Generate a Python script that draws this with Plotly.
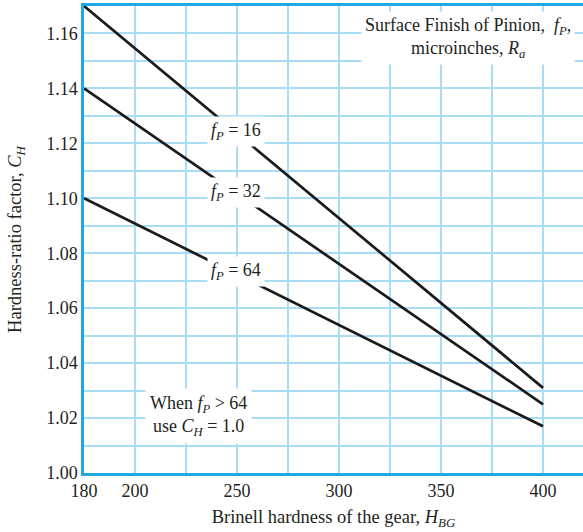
import plotly.graph_objects as go

# Brinell hardness of the gear and hardness-ratio factor
hardness = [180, 400]
ch_fp16 = [1.170, 1.031]
ch_fp32 = [1.140, 1.025]
ch_fp64 = [1.100, 1.017]

x_tick_values = [180, 200, 225, 250, 275, 300, 325, 350, 375, 400]
x_tick_labels = ["180", "200", "", "250", "", "300", "", "350", "", "400"]
y_ticks = [1.00, 1.01, 1.02, 1.03, 1.04, 1.05, 1.06, 1.07, 1.08, 1.09, 1.10,
           1.11, 1.12, 1.13, 1.14, 1.15, 1.16]
y_labels = ["1.00", "", "1.02", "", "1.04", "", "1.06", "", "1.08", "", "1.10",
            "", "1.12", "", "1.14", "", "1.16"]


def axis_pos(h):
    # The original chart's x axis is broken: the 180..200 segment is drawn
    # as wide as a 25-unit interval (180 sits where 175 would be).
    if h >= 200:
        return h
    return 175 + (h - 180) * 25 / 20


FONT = "Liberation Serif"
AXIS = "#1fa9e4"
GRID = "#a9dcf5"
TXT = "#231f20"

fig = go.Figure()
for ys in (ch_fp16, ch_fp32, ch_fp64):
    fig.add_trace(go.Scatter(x=[axis_pos(h) for h in hardness], y=ys, mode="lines",
                             line=dict(color="#1a1a1a", width=2.7),
                             showlegend=False, hoverinfo="skip"))


def fp(txt, x, y):
    fig.add_annotation(x=axis_pos(x), y=y, text=txt, showarrow=False, bgcolor="white",
                       font=dict(family=FONT, size=18, color=TXT),
                       xref="x", yref="y", borderpad=3)


fp("<i>f</i><sub><i>P</i></sub> = 16", 249.5, 1.1243)
fp("<i>f</i><sub><i>P</i></sub> = 32", 249.5, 1.1021)
fp("<i>f</i><sub><i>P</i></sub> = 64", 249.5, 1.0733)

fig.add_annotation(x=axis_pos(363), y=1.1582,
                   text="Surface Finish of Pinion,  <i>f</i><sub><i>P</i></sub>,<br>microinches, <i>R</i><sub><i>a</i></sub>",
                   showarrow=False, bgcolor="white", align="center",
                   font=dict(family=FONT, size=18, color=TXT), borderpad=3)
fig.add_annotation(x=axis_pos(231), y=1.0207,
                   text="When <i>f</i><sub><i>P</i></sub> > 64<br>use <i>C</i><sub><i>H</i></sub> = 1.0",
                   showarrow=False, bgcolor="white", align="center",
                   font=dict(family=FONT, size=18, color=TXT), borderpad=4)

fig.update_layout(
    width=583, height=532,
    margin=dict(l=84, r=0, t=6, b=59, autoexpand=False),
    plot_bgcolor="white", paper_bgcolor="white",
    font=dict(family=FONT, size=18, color=TXT),
    xaxis=dict(range=[175, 419.6], tickvals=[axis_pos(v) for v in x_tick_values],
               ticktext=x_tick_labels,
               showgrid=True, gridcolor=GRID, gridwidth=1.6,
               showline=True, linecolor=AXIS, linewidth=2.5, mirror=True,
               ticks="", zeroline=False, automargin=False,
               title=dict(text="Brinell hardness of the gear, <i>H</i><sub><i>BG</i></sub>",
                          font=dict(family=FONT, size=18.5), standoff=10),
               tickfont=dict(family=FONT, size=18, color=TXT)),
    yaxis=dict(range=[1.0, 1.17], tickvals=y_ticks, ticktext=y_labels,
               showgrid=True, gridcolor=GRID, gridwidth=1.6,
               showline=True, linecolor=AXIS, linewidth=2.5,
               ticks="", zeroline=False, automargin=False,
               title=dict(text="Hardness-ratio factor, <i>C</i><sub><i>H</i></sub>",
                          font=dict(family=FONT, size=18.5), standoff=20),
               tickfont=dict(family=FONT, size=18, color=TXT)),
)

fig.write_html("out.html", config={"displayModeBar": False},
               post_script=("document.documentElement.style.margin='0';"
                            "document.body.style.margin='0';document.body.style.padding='0';"
                            "document.documentElement.style.overflow='hidden';"
                            "document.body.style.overflow='hidden';"))
